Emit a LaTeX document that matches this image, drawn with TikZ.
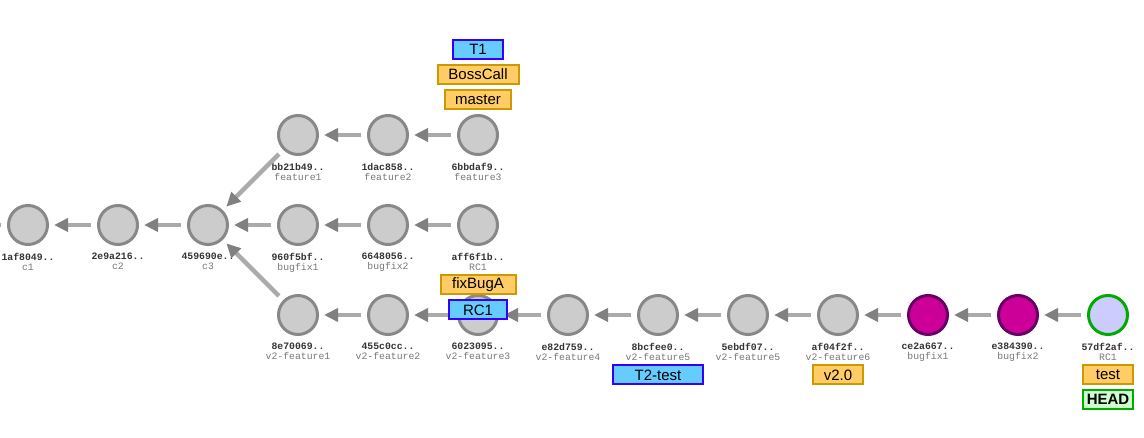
\documentclass[tikz,border=0pt]{standalone}
\usepackage{fontspec}
\setmainfont{Liberation Sans}
\setmonofont{Liberation Mono}
\usetikzlibrary{arrows.meta}
\definecolor{CommitFill}{HTML}{CCCCCC}
\definecolor{CommitLine}{HTML}{888888}
\definecolor{FixFill}{HTML}{CC0099}
\definecolor{FixLine}{HTML}{660066}
\definecolor{HeadFill}{HTML}{CCCCFF}
\definecolor{HeadLine}{HTML}{00AA00}
\definecolor{HeadTagFill}{HTML}{CCFFCC}
\definecolor{BranchFill}{HTML}{FFCC66}
\definecolor{BranchLine}{HTML}{CC9900}
\definecolor{TagFill}{HTML}{66CCFF}
\definecolor{TagLine}{HTML}{3300FF}
\definecolor{ArrowLine}{HTML}{AAAAAA}
\definecolor{ArrowHead}{HTML}{808080}
\definecolor{HashDark}{HTML}{333333}
\definecolor{NameGray}{HTML}{777777}

\begin{document}
\begin{tikzpicture}[x=1pt,y=-1pt,
    commit/.style={circle,draw=CommitLine,fill=CommitFill,line width=3pt,
                   minimum size=39pt,inner sep=0pt,label distance=1pt},
    fixcommit/.style={commit,draw=FixLine,fill=FixFill},
    headcommit/.style={commit,draw=HeadLine,fill=HeadFill},
    cmtlbl/.style={font=\ttfamily\fontsize{9.8}{10}\selectfont,text=NameGray,
                   align=center,inner sep=1pt,yshift=-6pt},
    refbox/.style={draw,line width=2pt,minimum height=19pt,inner sep=0pt,
                   font=\fontsize{15}{15}\selectfont},
    branch/.style={refbox,draw=BranchLine,fill=BranchFill},
    tagref/.style={refbox,draw=TagLine,fill=TagFill},
    headref/.style={refbox,draw=HeadLine,fill=HeadTagFill,
                    font=\fontsize{15}{15}\selectfont\bfseries},
    ar/.style={line width=4.5pt,draw=ArrowLine,
               -{Triangle[length=14pt,width=13pt,color=ArrowHead]},
               shorten >=5pt,shorten <=6pt}]
  \clip (0,0) rectangle (1144,438);

  % trunk
  \node[commit,label={[cmtlbl]below:{\textbf{\textcolor{HashDark}{1af8049..}}\\c1}}] (c1) at (28,225) {};
  \node[commit,label={[cmtlbl]below:{\textbf{\textcolor{HashDark}{2e9a216..}}\\c2}}] (c2) at (118,225) {};
  \node[commit,label={[cmtlbl]below:{\textbf{\textcolor{HashDark}{459690e..}}\\c3}}] (c3) at (208,225) {};
  \coordinate (c0) at (-70,225);

  % feature row
  \node[commit,label={[cmtlbl]below:{\textbf{\textcolor{HashDark}{bb21b49..}}\\feature1}}] (f1) at (298,135) {};
  \node[commit,label={[cmtlbl]below:{\textbf{\textcolor{HashDark}{1dac858..}}\\feature2}}] (f2) at (388,135) {};
  \node[commit,label={[cmtlbl]below:{\textbf{\textcolor{HashDark}{6bbdaf9..}}\\feature3}}] (f3) at (478,135) {};

  % bugfix row
  \node[commit,label={[cmtlbl]below:{\textbf{\textcolor{HashDark}{960f5bf..}}\\bugfix1}}] (b1) at (298,225) {};
  \node[commit,label={[cmtlbl]below:{\textbf{\textcolor{HashDark}{6648056..}}\\bugfix2}}] (b2) at (388,225) {};
  \node[commit,label={[cmtlbl]below:{\textbf{\textcolor{HashDark}{aff6f1b..}}\\RC1}}] (b3) at (478,225) {};

  % v2 row
  \node[commit,label={[cmtlbl]below:{\textbf{\textcolor{HashDark}{8e70069..}}\\v2-feature1}}] (v1) at (298,315) {};
  \node[commit,label={[cmtlbl]below:{\textbf{\textcolor{HashDark}{455c0cc..}}\\v2-feature2}}] (v2) at (388,315) {};
  \node[commit,label={[cmtlbl]below:{\textbf{\textcolor{HashDark}{6023095..}}\\v2-feature3}}] (v3) at (478,315) {};
  \node[commit,label={[cmtlbl]below:{\textbf{\textcolor{HashDark}{e82d759..}}\\v2-feature4}}] (v4) at (568,315) {};
  \node[commit,label={[cmtlbl]below:{\textbf{\textcolor{HashDark}{8bcfee0..}}\\v2-feature5}}] (v5) at (658,315) {};
  \node[commit,label={[cmtlbl]below:{\textbf{\textcolor{HashDark}{5ebdf07..}}\\v2-feature5}}] (v6) at (748,315) {};
  \node[commit,label={[cmtlbl]below:{\textbf{\textcolor{HashDark}{af04f2f..}}\\v2-feature6}}] (v7) at (838,315) {};
  \node[fixcommit,label={[cmtlbl]below:{\textbf{\textcolor{HashDark}{ce2a667..}}\\bugfix1}}] (x1) at (928,315) {};
  \node[fixcommit,label={[cmtlbl]below:{\textbf{\textcolor{HashDark}{e384390..}}\\bugfix2}}] (x2) at (1018,315) {};
  \node[headcommit,label={[cmtlbl]below:{\textbf{\textcolor{HashDark}{57df2af..}}\\RC1}}] (hd) at (1108,315) {};

  % parent links
  \draw[ar] (c1)--(c0); \draw[ar] (c2)--(c1); \draw[ar] (c3)--(c2);
  \draw[ar] (f1)--(c3); \draw[ar] (f2)--(f1); \draw[ar] (f3)--(f2);
  \draw[ar] (b1)--(c3); \draw[ar] (b2)--(b1); \draw[ar] (b3)--(b2);
  \draw[ar] (v1)--(c3); \draw[ar] (v2)--(v1); \draw[ar] (v3)--(v2);
  \draw[ar] (v4)--(v3); \draw[ar] (v5)--(v4); \draw[ar] (v6)--(v5);
  \draw[ar] (v7)--(v6); \draw[ar] (x1)--(v7); \draw[ar] (x2)--(x1);
  \draw[ar] (hd)--(x2);

  % refs
  \node[tagref,minimum width=50pt] (t1) at (478,49.5) {T1};
  \node[branch,minimum width=81pt] (boss) at (478,74.5) {BossCall};
  \node[branch,minimum width=66pt] (master) at (478,99.5) {master};
  \node[branch,minimum width=75pt] (fixa) at (478,284.5) {fixBugA};
  \node[tagref,minimum width=58pt] (rc1) at (478,310) {RC1};
  \node[tagref,minimum width=90pt] (t2) at (658,375) {T2-test};
  \node[branch,minimum width=50pt] (v20) at (838,375) {v2.0};
  \node[branch,minimum width=50pt] (test) at (1108,375) {test};
  \node[headref,minimum width=50pt] (head) at (1108,399.5) {HEAD};
\end{tikzpicture}
\end{document}
